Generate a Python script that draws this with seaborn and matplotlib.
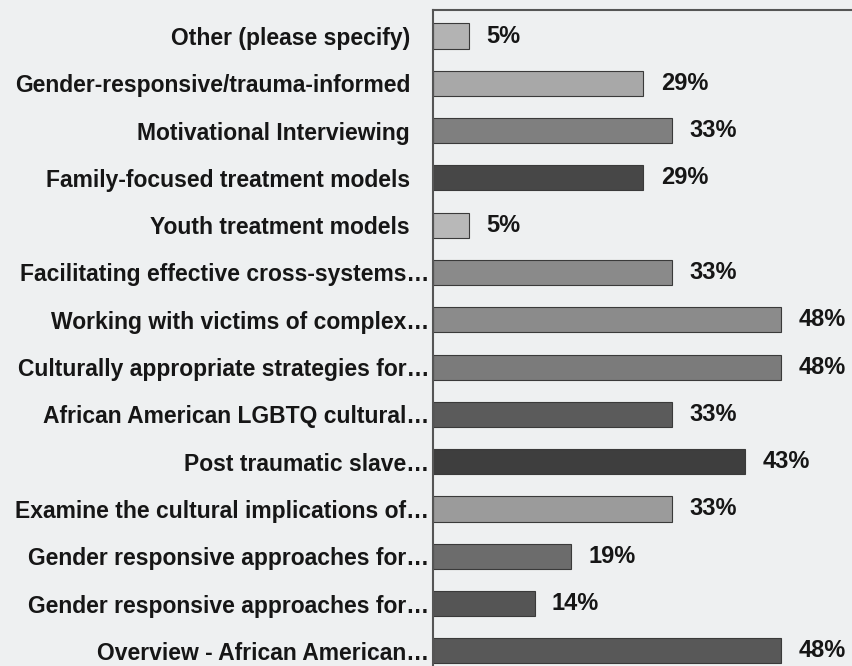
import matplotlib
matplotlib.use("Agg")
import matplotlib.pyplot as plt
import matplotlib.transforms as mtransforms
import seaborn as sns
import pandas as pd

categories = [
    "Other (please specify)",
    "Gender-responsive/trauma-informed",
    "Motivational Interviewing",
    "Family-focused treatment models",
    "Youth treatment models",
    "Facilitating effective cross-systems\u2026",
    "Working with victims of complex\u2026",
    "Culturally appropriate strategies for\u2026",
    "African American LGBTQ cultural\u2026",
    "Post traumatic slave\u2026",
    "Examine the cultural implications of\u2026",
    "Gender responsive approaches for\u2026",
    "Gender responsive approaches for\u2026",
    "Overview - African American\u2026",
]
percent = [5, 29, 33, 29, 5, 33, 48, 48, 33, 43, 33, 19, 14, 48]
bar_greys = [
    "#b3b3b3", "#a8a8a8", "#7f7f7f", "#474747", "#b8b8b8", "#8a8a8a", "#8b8b8b",
    "#7b7b7b", "#5b5b5b", "#3e3e3e", "#9b9b9b", "#6c6c6c", "#555555", "#585858",
]

# Two answer options share the same truncated text, so rows are keyed by position
rows = [f"row{i:02d}" for i in range(len(categories))]
df = pd.DataFrame({"row": rows, "percent": percent})

sns.set_theme(style="white")
plt.rcParams["font.family"] = ["Liberation Sans", "DejaVu Sans"]

bg = "#eef0f1"
ink = "#161616"
fig = plt.figure(figsize=(8.52, 6.66), dpi=100, facecolor=bg)
ax = fig.add_axes([433 / 852, 0, (852 - 433) / 852, 656 / 666])
ax.set_facecolor(bg)

sns.barplot(
    data=df, y="row", x="percent", hue="row", palette=bar_greys,
    orient="h", legend=False, width=0.53, ax=ax,
    edgecolor="#3a3a3a", linewidth=0.8,
)

for i, v in enumerate(percent):
    ax.text(v + 2.4, i, f"{v}%", va="center", ha="left",
            fontsize=17, fontweight="bold", color=ink)

ax.set_yticks(range(len(categories)))
ax.set_yticklabels(categories)
ax.set_xlim(0, 419 / 7.25)
ax.set_ylim(13.32, -0.55)
ax.set_xlabel("")
ax.set_ylabel("")
ax.set_xticks([])
ax.tick_params(axis="y", length=0, pad=16.5, labelsize=16.5, labelcolor=ink)

# truncated labels let their ellipsis run past the common right edge
shift = mtransforms.ScaledTranslation(0.19, 0, fig.dpi_scale_trans)
for lbl in ax.get_yticklabels():
    lbl.set_fontweight("bold")
    if lbl.get_text().endswith("\u2026"):
        lbl.set_transform(lbl.get_transform() + shift)

for s in ("right", "bottom"):
    ax.spines[s].set_visible(False)
for s in ("left", "top"):
    ax.spines[s].set_color("#555555")
    ax.spines[s].set_linewidth(1.5)

fig.savefig("out.png", dpi=100, facecolor=bg)
